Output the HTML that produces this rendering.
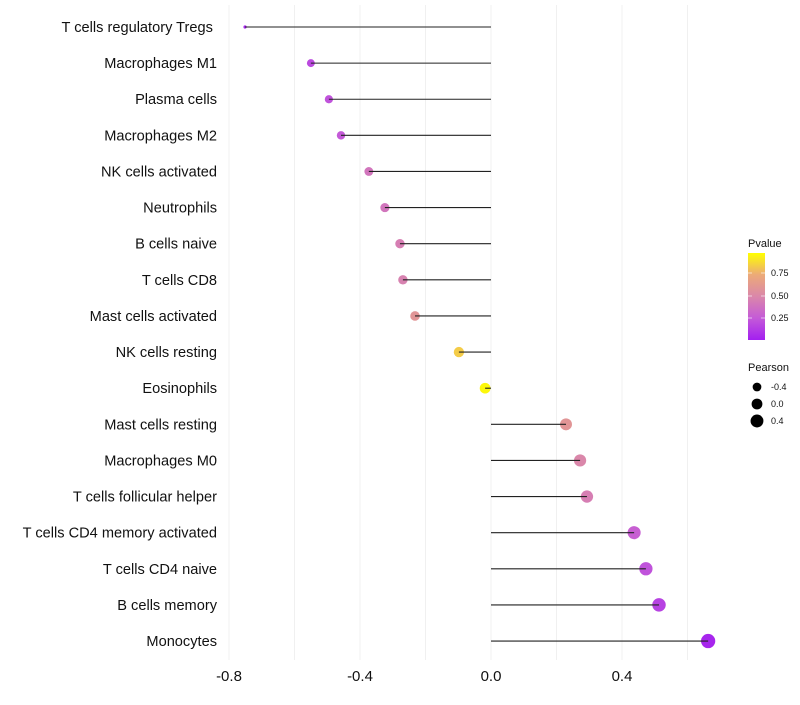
<!DOCTYPE html>
<html><head><meta charset="utf-8"><style>
body{margin:0;background:#fff;font-family:"Liberation Sans",sans-serif}
</style></head><body>
<svg id="c" width="800" height="700" xmlns="http://www.w3.org/2000/svg"></svg>
<script>
const categories=["T cells regulatory  Tregs\u00a0","Macrophages M1","Plasma cells","Macrophages M2","NK cells activated","Neutrophils","B cells naive","T cells CD8","Mast cells activated","NK cells resting","Eosinophils","Mast cells resting","Macrophages M0","T cells follicular helper","T cells CD4 memory activated","T cells CD4 naive","B cells memory","Monocytes"];
const pearson=[-0.751,-0.55,-0.495,-0.458,-0.373,-0.324,-0.278,-0.269,-0.232,-0.098,-0.018,0.229,0.272,0.293,0.437,0.473,0.513,0.663];
const pvalues=[0.02,0.18,0.22,0.25,0.4,0.4,0.45,0.47,0.6,0.85,0.98,0.6,0.5,0.45,0.28,0.22,0.15,0.03];
const xticks=[-0.8,-0.4,0.0,0.4];
const xtickLabels=["-0.8","-0.4","0.0","0.4"];
const gridVals=[-0.8,-0.6,-0.4,-0.2,0,0.2,0.4,0.6];
const NS="http://www.w3.org/2000/svg",svg=document.getElementById('c');
const X=v=>491+v*327.5, Y=i=>27+i*36.12;
const R=v=>v<-0.7?1.6:Math.max(1.5,5.4+2.6*v);
const stops=[[0,[163,31,240]],[0.25,[196,90,216]],[0.5,[218,135,170]],[0.75,[236,170,120]],[1,[255,255,0]]];
function col(p){for(let k=1;k<stops.length;k++){if(p<=stops[k][0]){const a=stops[k-1],b=stops[k],t=(p-a[0])/(b[0]-a[0]);return 'rgb('+a[1].map((c,j)=>Math.round(c+(b[1][j]-c)*t)).join(',')+')';}}return 'rgb(255,255,0)';}
function el(t,a,txt){const e=document.createElementNS(NS,t);for(const k in a)e.setAttribute(k,a[k]);if(txt!=null)e.textContent=txt;svg.appendChild(e);return e;}
gridVals.forEach(v=>{const g=el('line',{x1:X(v),x2:X(v),y1:5,y2:660,stroke:'#f0f0f0','stroke-width':1});

});
categories.forEach((c,i)=>{
const t=el('text',{x:217,y:Y(i)+5,'text-anchor':'end','font-size':14.6,fill:'#111'},c);


const d=el('circle',{cx:X(pearson[i]),cy:Y(i),r:R(pearson[i]),fill:col(pvalues[i])});


const l=el('line',{x1:X(0),x2:X(pearson[i]),y1:Y(i),y2:Y(i),stroke:'#222','stroke-width':1.1});


});
xticks.forEach((v,i)=>{const t=el('text',{x:X(v),y:681,'text-anchor':'middle','font-size':15,fill:'#111'},xtickLabels[i]);

});
const defs=el('defs',{});
const lg=document.createElementNS(NS,'linearGradient');lg.setAttribute('id','pg');lg.setAttribute('x1',0);lg.setAttribute('y1',1);lg.setAttribute('x2',0);lg.setAttribute('y2',0);
stops.forEach(s=>{const st=document.createElementNS(NS,'stop');st.setAttribute('offset',s[0]);st.setAttribute('stop-color','rgb('+s[1].join(',')+')');lg.appendChild(st);});defs.appendChild(lg);
let t=el('text',{x:748,y:247,'font-size':11,fill:'#111'},'Pvalue');
const bar=el('rect',{x:748,y:253,width:17,height:87,fill:'url(#pg)'});
[[0.75,273],[0.5,296],[0.25,318]].forEach(([v,y])=>{el('line',{x1:748,x2:752,y1:y,y2:y,stroke:'#fff','stroke-width':0.6});el('line',{x1:761,x2:765,y1:y,y2:y,stroke:'#fff','stroke-width':0.6});
const lt=el('text',{x:771,y:y+3,'font-size':9,fill:'#111'},v.toFixed(2));});
t=el('text',{x:748,y:371,'font-size':11,fill:'#111'},'Pearson');
[[-0.4,387],[0,404],[0.4,421]].forEach(([v,y])=>{const c=el('circle',{cx:757,cy:y,r:R(v),fill:'#000'});
const lt=el('text',{x:771,y:y+3,'font-size':9,fill:'#111'},v===0?'0.0':String(v));});
</script>
</body></html>
